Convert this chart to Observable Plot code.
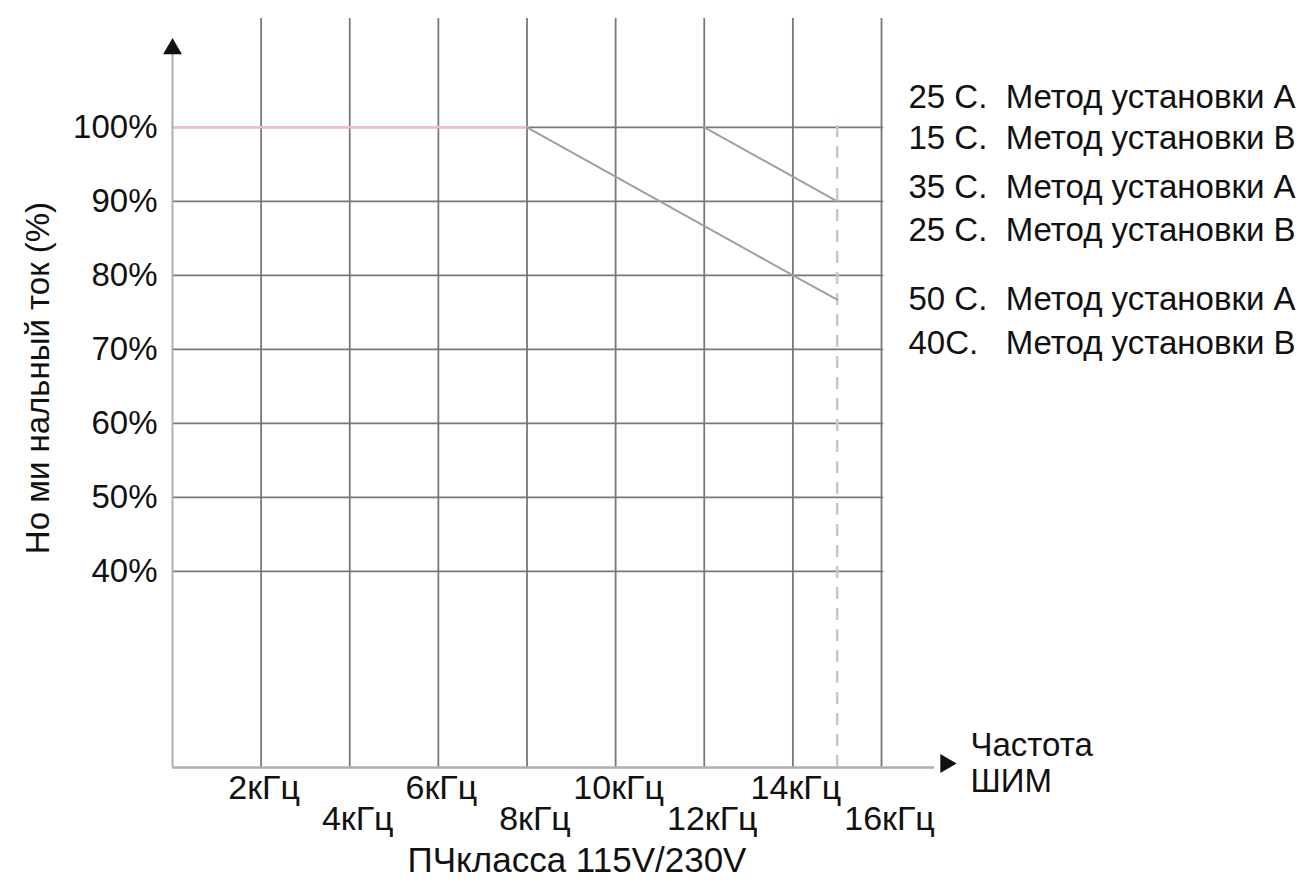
<!DOCTYPE html>
<html><head><meta charset="utf-8">
<script src="https://cdn.jsdelivr.net/npm/d3@7"></script>
<script src="https://cdn.jsdelivr.net/npm/@observablehq/plot@0.6"></script>
<style>
body{margin:0;background:#fff}
#chart svg{font-family:"Liberation Sans",Arial,sans-serif;background:#fff}
</style>
</head><body><div id="chart"></div>
<script>
// ---- data ----
const freqTicks = [2, 4, 6, 8, 10, 12, 14, 16];
const freqTickLabels = ["2кГц", "4кГц", "6кГц", "8кГц", "10кГц", "12кГц", "14кГц", "16кГц"];
const currentTicks = [40, 50, 60, 70, 80, 90, 100];
const currentTickLabels = ["40%", "50%", "60%", "70%", "80%", "90%", "100%"];
const curveAFlatFreq = [0, 8];
const curveAFlatCurrent = [100, 100];
const curveADerateFreq = [8, 14, 15];
const curveADerateCurrent = [100, 80, 76.7];
const curveBFreq = [12, 15];
const curveBCurrent = [100, 90];
const maxPwmFreq = 15;
const legendLabels = [
  "25 C.  Метод установки А",
  "15 C.  Метод установки В",
  "35 C.  Метод установки А",
  "25 C.  Метод установки В",
  "50 C.  Метод установки А",
  "40C.   Метод установки В"
];
const yAxisTitle = "Но ми нальный ток (%)";
const xAxisTitle = "ПЧкласса 115V/230V";
const xAxisEndLabel = "Частота\nШИМ";

// ---- build ----
const yMin = 13.5, yMax = 114.7;
const toPts = (xs, ys) => xs.map((x, i) => ({x, y: ys[i]}));
const tickRows = freqTicks.map((f, i) => ({f, t: freqTickLabels[i]}));
const upperTicks = tickRows.filter((d, i) => i % 2 === 0);
const lowerTicks = tickRows.filter((d, i) => i % 2 === 1);
const legendRowY = [104.0, 98.5, 91.9, 86.1, 76.8, 70.8];
const legendRows = legendLabels.map((t, i) => ({t, y: legendRowY[i]}));

const chart = Plot.plot({
  width: 1306, height: 883,
  marginLeft: 172, marginRight: 425, marginTop: 18, marginBottom: 116,
  x: {domain: [0, 16], axis: null},
  y: {domain: [yMin, yMax], axis: null},
  marks: [
    Plot.ruleY(currentTicks, {x1: 0, x2: 16.05, stroke: "#787878", strokeWidth: 1.8}),
    Plot.ruleX(freqTicks, {y1: yMin, y2: yMax, stroke: "#787878", strokeWidth: 1.8}),
    Plot.ruleX([maxPwmFreq], {y1: yMin, y2: 101.5, stroke: "#c8c8c8", strokeWidth: 2.5, strokeDasharray: "12,9"}),
    Plot.line(toPts(curveAFlatFreq, curveAFlatCurrent), {x: "x", y: "y", stroke: "#f3bcc4", strokeWidth: 2.5}),
    Plot.line(toPts(curveADerateFreq, curveADerateCurrent), {x: "x", y: "y", stroke: "#a0a0a0", strokeWidth: 2}),
    Plot.line(toPts(curveBFreq, curveBCurrent), {x: "x", y: "y", stroke: "#a0a0a0", strokeWidth: 2}),
    // axes
    Plot.ruleX([0], {y1: yMin, y2: 110.5, stroke: "#b0b0b0", strokeWidth: 2}),
    Plot.ruleY([yMin], {x1: 0, x2: 17.2, stroke: "#b0b0b0", strokeWidth: 2.5}),
    Plot.dot([{x: 0, y: 110.6}], {x: "x", y: "y", symbol: "triangle", r: 7, fill: "#111", stroke: "none"}),
    Plot.dot([{x: 17.45, y: yMin}], {x: "x", y: "y", symbol: "triangle", r: 7, fill: "#111", stroke: "none", rotate: 90, dy: -4}),
    // tick labels
    Plot.text(currentTicks.map((v, i) => ({v, t: currentTickLabels[i]})), {x: 0, y: "v", text: "t", textAnchor: "end", dx: -15, fontSize: 33, fill: "#111"}),
    Plot.text(upperTicks, {x: "f", y: yMin, text: "t", dx: 3, dy: 21, fontSize: 34, fill: "#111"}),
    Plot.text(lowerTicks, {x: "f", y: yMin, text: "t", dx: 8, dy: 52, fontSize: 34, fill: "#111"}),
    // titles
    Plot.text([xAxisTitle], {frameAnchor: "bottom", dx: 50, dy: 93, lineAnchor: "middle", fontSize: 35, fill: "#111"}),
    Plot.text([xAxisEndLabel], {frameAnchor: "bottom-right", textAnchor: "start", lineAnchor: "middle", dx: 89, dy: -5, fontSize: 33, lineHeight: 1.09, fill: "#111"}),
    Plot.text([yAxisTitle], {frameAnchor: "left", textAnchor: "middle", lineAnchor: "middle", rotate: -90, dx: -134, dy: -15, fontSize: 33, fill: "#111"}),
    // legend
    Plot.text(legendRows, {x: 16, y: "y", text: "t", textAnchor: "end", dx: 414, fontSize: 33, fill: "#111"})
  ]
});
document.getElementById("chart").appendChild(chart);
</script>
</body></html>
